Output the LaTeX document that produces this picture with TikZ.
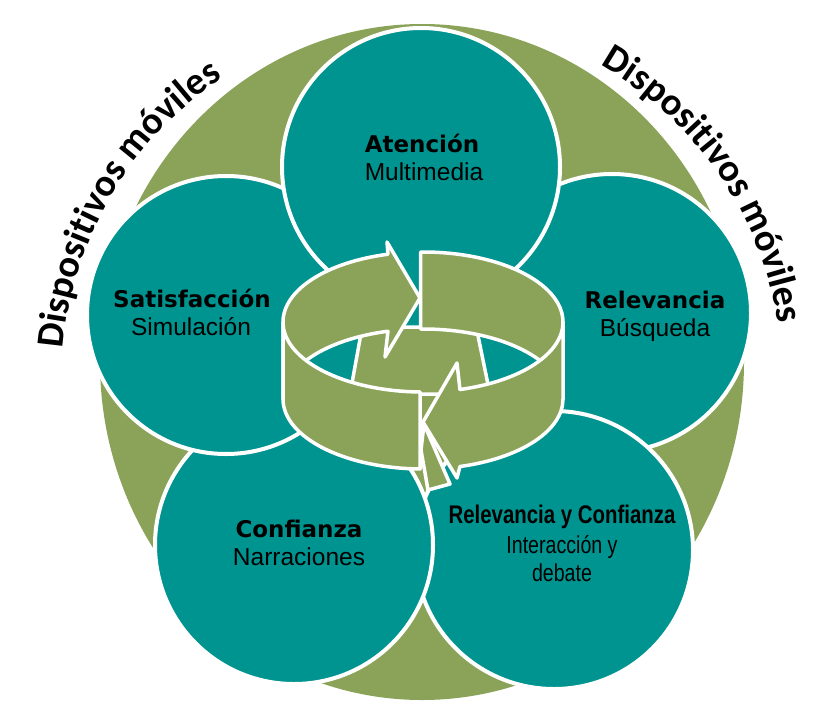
\documentclass[tikz,border=0pt]{standalone}
\usepackage{fontspec}
\usetikzlibrary{decorations.text}
\newfontfamily\titfont{DejaVu Sans}
\newfontfamily\subfont{Liberation Sans}
\newfontfamily\narrowfont{Liberation Sans}[FakeStretch=0.8]
\newfontfamily\arcfont{Carlito}
\definecolor{circteal}{RGB}{0,148,144}
\definecolor{ringgreen}{RGB}{139,163,89}
\tikzset{
	blob/.style={circle,minimum size=278pt,inner sep=0pt,fill=circteal,draw=white,line width=4pt},
	band/.style={fill=ringgreen,draw=white,line width=3.5pt,line join=round},
	tit/.style={anchor=base,font=\titfont\bfseries\fontsize{23}{23}\selectfont},
	sub/.style={anchor=base,font=\subfont\fontsize{24.5}{24.5}\selectfont},
	ntit/.style={anchor=base,font=\narrowfont\bfseries\fontsize{25.5}{25.5}\selectfont},
	nsub/.style={anchor=base,font=\narrowfont\fontsize{24.5}{24.5}\selectfont},
	earc/.style={x radius=140pt,y radius=70pt},
	arctext/.style={decorate,decoration={text along path,text align=center,
		text={|\arcfont\bfseries\fontsize{38.5}{38.5}\selectfont|Dispositivos móviles}}}
}
\begin{document}
\begin{tikzpicture}[x=1pt,y=-1pt]
	\useasboundingbox (0,0) rectangle (821,709);
	% green ring behind
	\fill[ringgreen] (422,362) ellipse [x radius=322pt,y radius=338pt];
	% the five circles
	\node[blob] (rel) at (612,313) {};
	\node[blob] (relconf) at (554,550) {};
	\node[blob] (conf) at (294,545) {};
	\node[blob] (sat) at (226,315) {};
	\node[blob] (aten) at (421,167) {};
	% cycle in the middle
	\coordinate (ct) at (423,322);
	\coordinate (cb) at (423,399);
	\fill[circteal] (ct) ellipse [earc];
	\draw[band] (362,328) -- (476,326) -- (490,394) -- (350,394) -- cycle;
	\draw[band] ([shift={(180:140pt and 70pt)}]ct) arc[earc,start angle=180,end angle=104.5]
		-- (387,242) -- (420,298) -- (385,357)
		-- ([shift={(104.5:140pt and 70pt)}]cb) arc[earc,start angle=104.5,end angle=180] -- cycle;
	\draw[band] ([shift={(91:140pt and 70pt)}]ct) arc[earc,start angle=91,end angle=0]
		-- ([shift={(0:140pt and 70pt)}]cb) arc[earc,start angle=0,end angle=91] -- cycle;
	\draw[band] (421,450) -- (428,490) -- (450,484) -- (424,424) -- cycle;
	\draw[band] ([shift={(180:140pt and 70pt)}]ct) arc[earc,start angle=180,end angle=268.8]
		-- ([shift={(268.8:140pt and 70pt)}]cb) arc[earc,start angle=268.8,end angle=180] -- cycle;
	\draw[band] ([shift={(0:140pt and 70pt)}]ct) arc[earc,start angle=360,end angle=285.3]
		-- (457,363) -- (423,422) -- (457,478)
		-- ([shift={(285.3:140pt and 70pt)}]cb) arc[earc,start angle=285.3,end angle=360] -- cycle;
	% labels
	\node[tit] (atenT) at (422,152) {Atención};
	\node[sub] (atenS) at (424,180) {Multimedia};
	\node[tit] (satT) at (192,307) {Satisfacción};
	\node[sub] (satS) at (191,335) {Simulación};
	\node[tit] (relT) at (655,308) {Relevancia};
	\node[sub] (relS) at (655,336) {Búsqueda};
	\node[tit] (confT) at (299,537) {Confianza};
	\node[sub] (confS) at (299,565) {Narraciones};
	\node[ntit] (rcT) at (562,523) {Relevancia y Confianza};
	\node[nsub] (rcS) at (562,553) {Interacción y};
	\node[nsub] (rcD) at (562,581) {debate};
	% text round the ring
	\coordinate (mid) at (422,378);
	\path[arctext] ([shift={(178:360pt)}]mid) arc[start angle=178,end angle=121,radius=360pt];
	\path[arctext] ([shift={(61:360pt)}]mid) arc[start angle=61,end angle=8,radius=360pt];
\end{tikzpicture}
\end{document}
